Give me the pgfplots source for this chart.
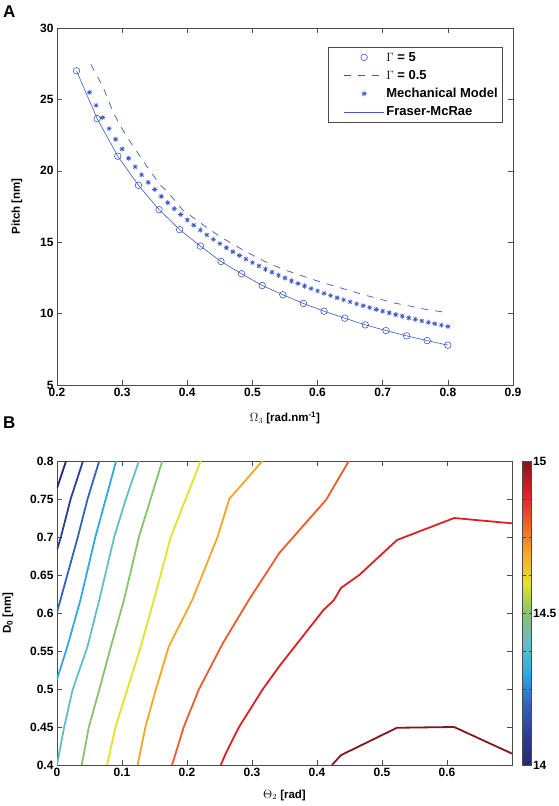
\documentclass[border=0pt]{standalone}
\usepackage{pgfplots}
\pgfplotsset{compat=1.18}
\usepackage{fontspec}
\setmainfont{Liberation Sans}
\definecolor{mblue}{RGB}{62,88,195}
\definecolor{axgray}{RGB}{75,75,75}
\definecolor{c0}{RGB}{35,40,120}
\definecolor{c1}{RGB}{45,62,150}
\definecolor{c2}{RGB}{52,98,188}
\definecolor{c3}{RGB}{48,168,228}
\definecolor{c4}{RGB}{100,190,200}
\definecolor{c5}{RGB}{135,195,110}
\definecolor{c6}{RGB}{228,226,40}
\definecolor{c7}{RGB}{245,165,40}
\definecolor{c8}{RGB}{238,92,42}
\definecolor{c9}{RGB}{220,32,36}
\definecolor{c10}{RGB}{128,24,30}
\pgfdeclareplotmark{star8}{%
  \pgfpathmoveto{\pgfqpoint{0pt}{\pgfplotmarksize}}\pgfpathlineto{\pgfqpoint{0pt}{-\pgfplotmarksize}}%
  \pgfpathmoveto{\pgfqpoint{\pgfplotmarksize}{0pt}}\pgfpathlineto{\pgfqpoint{-\pgfplotmarksize}{0pt}}%
  \pgfpathmoveto{\pgfqpoint{0.7071\pgfplotmarksize}{0.7071\pgfplotmarksize}}\pgfpathlineto{\pgfqpoint{-0.7071\pgfplotmarksize}{-0.7071\pgfplotmarksize}}%
  \pgfpathmoveto{\pgfqpoint{0.7071\pgfplotmarksize}{-0.7071\pgfplotmarksize}}\pgfpathlineto{\pgfqpoint{-0.7071\pgfplotmarksize}{0.7071\pgfplotmarksize}}%
  \pgfusepathqstroke}
\pgfplotsset{
  mstyle/.style={
    scale only axis,
    axis line style={axgray, line width=0.8pt},
    tick style={axgray, line width=0.6pt},
    major tick length=5pt,
    tick align=inside,
    tick label style={font=\fontsize{12}{14}\selectfont\bfseries},
    label style={font=\fontsize{11.5}{13}\selectfont\bfseries},
    /pgf/number format/assume math mode=true,
    /pgf/number format/fixed,
    /pgf/number format/precision=3,
  },
  legend image code/.code={\path (-0.45cm,0cm); \draw[mark repeat=2,mark phase=2,#1] plot coordinates {(0cm,0cm) (0.7cm,0cm) (1.4cm,0cm)};},
}
\begin{document}
\begin{tikzpicture}
\path[use as bounding box] (0,0) rectangle (559pt,-806pt);
\node[anchor=north west, font=\fontsize{17}{17}\selectfont\bfseries, inner sep=0pt] at (3pt,-6pt) {A};
\node[anchor=north west, font=\fontsize{17}{17}\selectfont\bfseries, inner sep=0pt] at (3pt,-417pt) {B};

\begin{axis}[mstyle,
  at={(57pt,-28pt)}, anchor=north west,
  width=456pt, height=357pt,
  xmin=0.2, xmax=0.9, ymin=5, ymax=30,
  xtick={0.2,0.3,0.4,0.5,0.6,0.7,0.8,0.9},
  ytick={5,10,15,20,25,30},
  xlabel={$\Omega_3$ [rad.nm\textsuperscript{-1}]},
  ylabel={Pitch [nm]},
  xlabel style={at={(axis description cs:0.5,-0.092)}, anchor=center},
  ylabel style={at={(axis description cs:-0.088,0.5)}, anchor=center},
  legend style={at={(0.978,0.947)}, anchor=north east, draw=axgray, line width=0.6pt,
    font=\fontsize{13}{15}\selectfont\bfseries, cells={anchor=west}, row sep=3.5pt,
    inner xsep=3pt, inner ysep=3pt},
]
\addplot[mblue, only marks, mark=o, mark size=3.3pt, line width=0.6pt] coordinates {
(0.2300,27.00) (0.2617,23.65) (0.2933,21.02) (0.3250,18.99) (0.3567,17.28)
(0.3883,15.88) (0.4200,14.73) (0.4517,13.65) (0.4833,12.79) (0.5150,11.97)
(0.5467,11.32) (0.5783,10.71) (0.6100,10.17) (0.6417,9.68) (0.6733,9.21)
(0.7050,8.81) (0.7367,8.44) (0.7683,8.11) (0.8000,7.79)};
\addlegendentry{$\Gamma$ = 5}
\addplot[mblue, no marks, line width=0.7pt, dash pattern=on 7pt off 7pt] coordinates {
(0.252,27.45) (0.270,25.93) (0.2865,24.07) (0.299,23.01) (0.315,21.84) (0.3275,21.02)
(0.343,19.97) (0.358,19.04) (0.3735,18.33) (0.3925,17.28) (0.42,16.35) (0.45,15.40)
(0.48,14.60) (0.50,14.10) (0.519,13.65) (0.545,13.14) (0.571,12.72) (0.594,12.37)
(0.619,12.02) (0.645,11.67) (0.671,11.32) (0.696,11.01) (0.719,10.73) (0.745,10.50)
(0.770,10.26) (0.800,10.07)};
\addlegendentry{$\Gamma$ = 0.5}
\addplot[mblue, only marks, mark=star8, mark size=2.6pt, line width=0.6pt] coordinates {
(0.25,25.50) (0.26,24.58) (0.27,23.73) (0.28,22.95) (0.29,22.21) (0.30,21.53)
(0.31,20.88) (0.32,20.28) (0.33,19.72) (0.34,19.19) (0.35,18.69) (0.36,18.21)
(0.37,17.76) (0.38,17.34) (0.39,16.94) (0.40,16.56) (0.41,16.19) (0.42,15.85)
(0.43,15.51) (0.44,15.20) (0.45,14.90) (0.46,14.61) (0.47,14.33) (0.48,14.07)
(0.49,13.82) (0.50,13.57) (0.51,13.34) (0.52,13.11) (0.53,12.90) (0.54,12.69)
(0.55,12.49) (0.56,12.29) (0.57,12.11) (0.58,11.93) (0.59,11.75) (0.60,11.59)
(0.61,11.42) (0.62,11.26) (0.63,11.11) (0.64,10.96) (0.65,10.82) (0.66,10.68)
(0.67,10.55) (0.68,10.42) (0.69,10.29) (0.70,10.17) (0.71,10.05) (0.72,9.93)
(0.73,9.82) (0.74,9.70) (0.75,9.60) (0.76,9.49) (0.77,9.39) (0.78,9.29)
(0.79,9.19) (0.80,9.10)};
\addlegendentry{Mechanical Model}
\addplot[mblue, no marks, line width=0.6pt] coordinates {
(0.2300,27.00) (0.2617,23.65) (0.2933,21.02) (0.3250,18.99) (0.3567,17.28)
(0.3883,15.88) (0.4200,14.73) (0.4517,13.65) (0.4833,12.79) (0.5150,11.97)
(0.5467,11.32) (0.5783,10.71) (0.6100,10.17) (0.6417,9.68) (0.6733,9.21)
(0.7050,8.81) (0.7367,8.44) (0.7683,8.11) (0.8000,7.79)};
\addlegendentry{Fraser-McRae}
\end{axis}

\begin{axis}[mstyle,
  at={(57pt,-461pt)}, anchor=north west,
  width=455pt, height=304pt,
  xmin=0, xmax=0.7, ymin=0.4, ymax=0.8,
  xtick={0,0.1,0.2,0.3,0.4,0.5,0.6},
  ytick={0.4,0.45,0.5,0.55,0.6,0.65,0.7,0.75,0.8},
  xlabel={$\Theta_2$ [rad]},
  ylabel={D\textsubscript{0} [nm]},
  xlabel style={at={(axis description cs:0.5,-0.099)}, anchor=center},
  ylabel style={at={(axis description cs:-0.108,0.5)}, anchor=center},
  colormap={mymap}{rgb255=(35,40,120) rgb255=(45,62,150) rgb255=(52,98,188) rgb255=(48,168,228)
    rgb255=(100,190,200) rgb255=(135,195,110) rgb255=(228,226,40) rgb255=(245,165,40)
    rgb255=(238,92,42) rgb255=(220,32,36) rgb255=(128,24,30)},
  point meta min=14, point meta max=15,
  colorbar,
  colorbar style={
    at={(parent axis.north east)}, anchor=north west, xshift=2pt,
    width=9pt,
    ytick={14,14.5,15},
    minor ytick={14.125,14.25,14.375,14.625,14.75,14.875},
    yticklabel pos=right,
    tick align=inside,
    major tick length=3pt, minor tick length=3pt,
    axis line style={axgray, line width=0.6pt},
    tick style={axgray, line width=0.5pt},
    yticklabel style={font=\fontsize{12}{14}\selectfont\bfseries, xshift=-2pt},
    /pgf/number format/assume math mode=true,
  },
]
\addplot[c0, line width=1.8pt, no marks] coordinates {(0,0.764) (0.014,0.8)};
\addplot[c1, line width=1.8pt, no marks] coordinates {(0,0.683) (0.006,0.7) (0.021,0.75) (0.040,0.8)};
\addplot[c2, line width=1.8pt, no marks] coordinates {(0,0.601) (0.032,0.7) (0.047,0.75) (0.065,0.8)};
\addplot[c3, line width=1.8pt, no marks] coordinates {(0,0.513) (0.016,0.556) (0.036,0.617) (0.059,0.7) (0.075,0.75) (0.091,0.8)};
\addplot[c4, line width=1.8pt, no marks] coordinates {(0,0.4) (0.011,0.45) (0.024,0.499) (0.047,0.556) (0.065,0.617) (0.088,0.7) (0.106,0.75) (0.126,0.8)};
\addplot[c5, line width=1.8pt, no marks] coordinates {(0.038,0.4) (0.049,0.45) (0.065,0.499) (0.083,0.556) (0.103,0.617) (0.126,0.7) (0.144,0.75) (0.162,0.8)};
\addplot[c6, line width=1.8pt, no marks] coordinates {(0.077,0.4) (0.09,0.45) (0.108,0.499) (0.129,0.556) (0.149,0.617) (0.175,0.7) (0.198,0.75) (0.221,0.8)};
\addplot[c7, line width=1.8pt, no marks] coordinates {(0.124,0.4) (0.136,0.45) (0.152,0.499) (0.172,0.556) (0.208,0.617) (0.247,0.7) (0.265,0.75) (0.316,0.8)};
\addplot[c8, line width=1.8pt, no marks] coordinates {(0.177,0.4) (0.195,0.45) (0.218,0.499) (0.255,0.56) (0.295,0.617) (0.342,0.679) (0.414,0.749) (0.449,0.8)};
\addplot[c9, line width=1.8pt, no marks] coordinates {(0.252,0.4) (0.26,0.416) (0.28,0.45) (0.316,0.499) (0.342,0.53) (0.41,0.604) (0.426,0.617) (0.437,0.633) (0.465,0.65) (0.523,0.696) (0.611,0.725) (0.7,0.718)};
\addplot[c10, line width=1.8pt, no marks] coordinates {(0.423,0.4) (0.437,0.413) (0.523,0.449) (0.611,0.45) (0.7,0.415)};
\end{axis}
\end{tikzpicture}
\end{document}
